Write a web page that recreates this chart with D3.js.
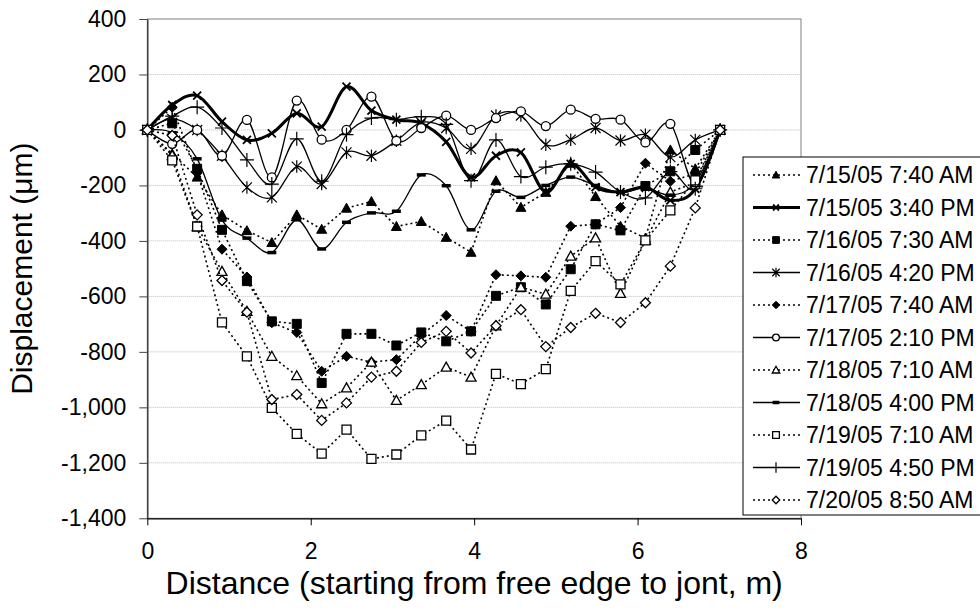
<!DOCTYPE html>
<html>
<head>
<meta charset="utf-8">
<script src="https://cdn.jsdelivr.net/npm/d3@7"></script>
<style>
  body { margin: 0; background: #fff; }
  text { font-family: Arial, "Liberation Sans", sans-serif; }
</style>
</head>
<body>
<script>
// distance from free edge (m), one reading per foot
var distance = [0, 0.305, 0.61, 0.914, 1.219, 1.524, 1.829, 2.134, 2.438, 2.743, 3.048, 3.353,
                3.658, 3.962, 4.267, 4.572, 4.877, 5.182, 5.486, 5.791, 6.096, 6.401, 6.706, 7.01];

var seriesNames = ["7/15/05 7:40 AM", "7/15/05 3:40 PM", "7/16/05 7:30 AM", "7/16/05 4:20 PM",
                   "7/17/05 7:40 AM", "7/17/05 2:10 PM", "7/18/05 7:10 AM", "7/18/05 4:00 PM",
                   "7/19/05 7:10 AM", "7/19/05 4:50 PM", "7/20/05 8:50 AM"];

// displacement (um)
var d0715am = [0, -86, -170, -306, -363, -406, -306, -358, -282, -258, -348, -330, -387, -441, -183, -279, -225, -120, -240, -347, -390, -72, -140, 0];
var d0715pm = [0, 90, 124, 30, -36, -12, 60, 12, 156, 70, 37, 24, -43, -171, -93, -81, -224, -122, -206, -224, -206, -254, -212, 0];
var d0716am = [0, 24, -140, -360, -545, -690, -699, -912, -735, -735, -777, -730, -762, -726, -598, -567, -629, -502, -340, -362, -202, -149, -72, 0];
var d0716pm = [0, 40, 0, -93, -207, -243, -132, -195, -81, -93, -39, 27, 7, -68, 52, 52, -53, -35, 7, -38, -17, -98, -36, 0];
var d0717am = [0, 82, -155, -430, -530, -695, -730, -870, -816, -837, -828, -740, -669, -726, -522, -526, -531, -347, -340, -280, -120, -185, -158, 0];
var d0717pm = [0, -50, 0, -93, 36, -171, 106, -35, 0, 120, -39, 7, 52, 0, 43, 67, 14, 73, 40, 37, -45, 22, -200, 0];
var d0718am = [0, -92, -348, -510, -654, -816, -886, -987, -930, -837, -975, -918, -855, -891, -706, -567, -592, -455, -389, -589, -398, -224, -190, 0];
var d0718pm = [0, -10, -104, -325, -390, -442, -324, -429, -333, -299, -293, -162, -201, -360, -221, -243, -200, -170, -200, -225, -210, -235, -190, 0];
var d0719am = [0, -110, -348, -694, -816, -1002, -1096, -1167, -1080, -1186, -1170, -1101, -1048, -1152, -879, -916, -862, -580, -473, -557, -398, -290, -182, 0];
var d0719pm = [0, 50, 82, 7, -108, -195, -32, -185, -17, 43, 37, 48, 20, -183, -36, -168, -134, -122, -152, -224, -245, -150, -212, 0];
var d0720am = [0, -20, -306, -543, -657, -972, -954, -1047, -984, -891, -870, -766, -726, -804, -706, -648, -781, -712, -661, -694, -623, -491, -281, 0];

var allSeries = [d0715am, d0715pm, d0716am, d0716pm, d0717am, d0717pm, d0718am, d0718pm, d0719am, d0719pm, d0720am];

var yTicks = [-1400, -1200, -1000, -800, -600, -400, -200, 0, 200, 400];
var xTicks = [0, 2, 4, 6, 8];

// line kind / marker for each series
var lineKind = ["dot", "thick", "dot", "thin", "dot", "thin", "dot", "thin", "dot", "thin", "dot"];
var markerKind = ["triangle", "x", "square", "asterisk", "diamond", "circle", "triangle", "dash", "square", "plus", "diamond"];
var markerFilled = [true, false, true, false, true, false, false, false, false, false, false];
var markerSize = [5, 4, 4.5, 5, 5, 4.5, 5, 4.5, 4.5, 7, 5];

var svg = d3.select("body").append("svg")
    .attr("width", 980)
    .attr("height", 613);

var x = d3.scaleLinear().domain([0, 8]).range([147.3, 801]);
var y = d3.scaleLinear().domain([-1400, 400]).range([518.3, 19]);

var fmt = d3.formatLocale({decimal: ".", thousands: ",", grouping: [3], currency: ["", ""], minus: "-"}).format(",");

// gridlines
svg.append("g").selectAll("line")
    .data(yTicks.filter(function (v) { return v > -1400 && v < 400; }))
    .join("line")
    .attr("x1", x(0)).attr("x2", x(8))
    .attr("y1", function (d) { return y(d); })
    .attr("y2", function (d) { return y(d); })
    .attr("stroke", "#bdbdbd")
    .attr("stroke-dasharray", "1,1")
    .attr("stroke-width", 1);

// plot border
svg.append("rect")
    .attr("x", x(0)).attr("y", y(400))
    .attr("width", x(8) - x(0)).attr("height", y(-1400) - y(400))
    .attr("fill", "none")
    .attr("stroke", "#808080")
    .attr("stroke-width", 1);

// axes
var yAxisGroup = svg.append("g")
    .attr("transform", "translate(" + x(0) + ",0)")
    .call(d3.axisLeft(y).tickValues(yTicks).tickSize(8).tickSizeOuter(0).tickPadding(13).tickFormat(fmt));
yAxisGroup.select(".domain").attr("stroke", "#404040").attr("stroke-width", 1.5);
yAxisGroup.selectAll(".tick line").attr("stroke", "#404040");
yAxisGroup.selectAll("text").attr("font-size", 23).attr("font-family", "Arial, 'Liberation Sans', sans-serif").attr("fill", "#000");

var xAxisGroup = svg.append("g")
    .attr("transform", "translate(0," + y(-1400) + ")")
    .call(d3.axisBottom(x).tickValues(xTicks).tickSize(7).tickSizeOuter(0).tickPadding(17).tickFormat(d3.format("d")));
xAxisGroup.select(".domain").attr("stroke", "#000").attr("stroke-width", 1.2);
xAxisGroup.selectAll("text").attr("font-size", 23).attr("font-family", "Arial, 'Liberation Sans', sans-serif").attr("fill", "#000");

// axis titles
svg.append("text")
    .attr("x", (x(0) + x(8)) / 2)
    .attr("y", 594)
    .attr("text-anchor", "middle")
    .attr("font-size", 32)
    .text("Distance (starting from free edge to jont, m)");

svg.append("text")
    .attr("transform", "translate(32," + (y(-1400) + y(400)) / 2 + ") rotate(-90)")
    .attr("text-anchor", "middle")
    .attr("font-size", 30)
    .text("Displacement (\u03bcm)");

function markerPath(kind, s) {
    switch (kind) {
        case "triangle": return "M0," + (-s) + "L" + s + "," + (s * 0.8) + "L" + (-s) + "," + (s * 0.8) + "Z";
        case "square": return "M" + (-s) + "," + (-s) + "H" + s + "V" + s + "H" + (-s) + "Z";
        case "diamond": return "M0," + (-s) + "L" + s + ",0L0," + s + "L" + (-s) + ",0Z";
        case "circle": return "M" + s + ",0A" + s + "," + s + " 0 1,1 " + (-s) + ",0A" + s + "," + s + " 0 1,1 " + s + ",0Z";
        case "x": return "M" + (-s) + "," + (-s) + "L" + s + "," + s + "M" + (-s) + "," + s + "L" + s + "," + (-s);
        case "asterisk": return "M" + (-s) + "," + (-s) + "L" + s + "," + s + "M" + (-s) + "," + s + "L" + s + "," + (-s) + "M0," + (-s * 1.25) + "V" + (s * 1.25);
        case "plus": return "M" + (-s) + ",0H" + s + "M0," + (-s) + "V" + s;
        case "dash": return "M" + (-s) + ",0H" + s;
    }
}

function styleLine(sel, kind) {
    sel.attr("fill", "none").attr("stroke", "#000");
    if (kind === "dot") sel.attr("stroke-width", 1.6).attr("stroke-dasharray", "2,3");
    else if (kind === "thick") sel.attr("stroke-width", 3);
    else sel.attr("stroke-width", 1.3);
}

function styleMarker(sel, i) {
    var k = markerKind[i];
    if (markerFilled[i]) {
        sel.attr("fill", "#000").attr("stroke", "#000").attr("stroke-width", 1);
    } else if (k === "x" || k === "asterisk" || k === "plus") {
        sel.attr("fill", "none").attr("stroke", "#000").attr("stroke-width", k === "x" ? 1.8 : 1.2);
    } else if (k === "dash") {
        sel.attr("fill", "none").attr("stroke", "#000").attr("stroke-width", 3.5);
    } else {
        sel.attr("fill", "#fff").attr("stroke", "#000").attr("stroke-width", 1.3);
    }
}

var smooth = d3.line()
    .x(function (d, i) { return x(distance[i]); })
    .y(function (d) { return y(d); })
    .curve(d3.curveCardinal.tension(0));
var straight = d3.line()
    .x(function (d, i) { return x(distance[i]); })
    .y(function (d) { return y(d); });

allSeries.forEach(function (vals, i) {
    var g = svg.append("g");
    var path = g.append("path")
        .attr("d", lineKind[i] === "dot" ? straight(vals) : smooth(vals));
    styleLine(path, lineKind[i]);

    var m = g.selectAll("path.m")
        .data(vals)
        .enter()
        .append("path")
        .attr("class", "m")
        .attr("transform", function (d, j) { return "translate(" + x(distance[j]) + "," + y(d) + ")"; })
        .attr("d", markerPath(markerKind[i], markerSize[i]));
    styleMarker(m, i);
});

// legend
var legend = svg.append("g");
legend.append("rect")
    .attr("x", 743).attr("y", 157)
    .attr("width", 260).attr("height", 358)
    .attr("fill", "#fff")
    .attr("stroke", "#000")
    .attr("stroke-width", 1);

seriesNames.forEach(function (name, i) {
    var ly = 175 + 32.5 * i;
    var ln = legend.append("line")
        .attr("x1", 753).attr("x2", 800)
        .attr("y1", ly).attr("y2", ly);
    styleLine(ln, lineKind[i]);
    var mk = legend.append("path")
        .attr("transform", "translate(776," + ly + ")")
        .attr("d", markerPath(markerKind[i], markerSize[i] * 0.75));
    styleMarker(mk, i);
    legend.append("text")
        .attr("x", 806).attr("y", ly)
        .attr("dy", "0.35em")
        .attr("font-size", 23)
        .text(name);
});
</script>
</body>
</html>
